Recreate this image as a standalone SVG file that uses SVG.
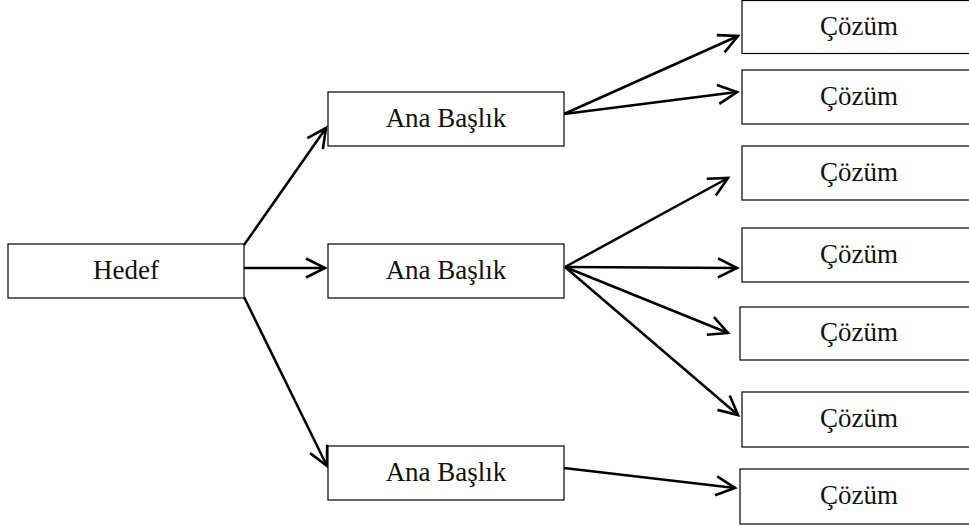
<svg xmlns="http://www.w3.org/2000/svg" width="969" height="526" viewBox="0 0 969 526">
  <style>
    .box { fill: #fff; stroke: #000; stroke-width: 1.2; }
    .label { font-family: "Liberation Serif", "Times New Roman", serif; font-size: 27px; fill: #111; text-anchor: middle; }
    .link { fill: none; stroke: #000; stroke-width: 2.5; marker-end: url(#arrow); }
  </style>
  <defs>
    <marker id="arrow" markerUnits="userSpaceOnUse" markerWidth="30" markerHeight="30" refX="0" refY="0" orient="auto" overflow="visible">
      <path d="M-19,-9.5 L0,0 L-19,9.5" fill="none" stroke="#000" stroke-width="2.6" stroke-linejoin="miter"/>
    </marker>
  </defs>
  <rect width="969" height="526" fill="#fff"/>

  <g id="connectors">
    <line class="link" x1="244" y1="245" x2="326" y2="128"/>
    <line class="link" x1="244" y1="268" x2="325" y2="268"/>
    <line class="link" x1="244" y1="297" x2="327" y2="466"/>
    <line class="link" x1="564" y1="114" x2="738" y2="36"/>
    <line class="link" x1="564" y1="114" x2="737" y2="92"/>
    <line class="link" x1="565" y1="267" x2="728" y2="178"/>
    <line class="link" x1="565" y1="267" x2="737" y2="268"/>
    <line class="link" x1="565" y1="267" x2="728" y2="333"/>
    <line class="link" x1="565" y1="267" x2="738" y2="415"/>
    <line class="link" x1="564" y1="468" x2="735" y2="488"/>
  </g>

  <g id="hedef">
    <rect class="box" x="8" y="244" width="236" height="54"/>
    <text class="label" x="126" y="279">Hedef</text>
  </g>

  <g id="ana-1">
    <rect class="box" x="328" y="92" width="236" height="54"/>
    <text class="label" x="446" y="127">Ana Başlık</text>
  </g>
  <g id="ana-2">
    <rect class="box" x="328" y="244" width="236" height="54"/>
    <text class="label" x="446" y="279">Ana Başlık</text>
  </g>
  <g id="ana-3">
    <rect class="box" x="328" y="446" width="236" height="54"/>
    <text class="label" x="446" y="481">Ana Başlık</text>
  </g>

  <g id="cozum-1">
    <rect class="box" x="742" y="0.5" width="240" height="53"/>
    <text class="label" x="859" y="35">Çözüm</text>
  </g>
  <g id="cozum-2">
    <rect class="box" x="742" y="70" width="240" height="54"/>
    <text class="label" x="859" y="105">Çözüm</text>
  </g>
  <g id="cozum-3">
    <rect class="box" x="742" y="146" width="240" height="54"/>
    <text class="label" x="859" y="181">Çözüm</text>
  </g>
  <g id="cozum-4">
    <rect class="box" x="742" y="228" width="240" height="54"/>
    <text class="label" x="859" y="263">Çözüm</text>
  </g>
  <g id="cozum-5">
    <rect class="box" x="740" y="307" width="240" height="53"/>
    <text class="label" x="859" y="341">Çözüm</text>
  </g>
  <g id="cozum-6">
    <rect class="box" x="742" y="392" width="240" height="55"/>
    <text class="label" x="859" y="427">Çözüm</text>
  </g>
  <g id="cozum-7">
    <rect class="box" x="740" y="469" width="240" height="55"/>
    <text class="label" x="859" y="504">Çözüm</text>
  </g>
</svg>
